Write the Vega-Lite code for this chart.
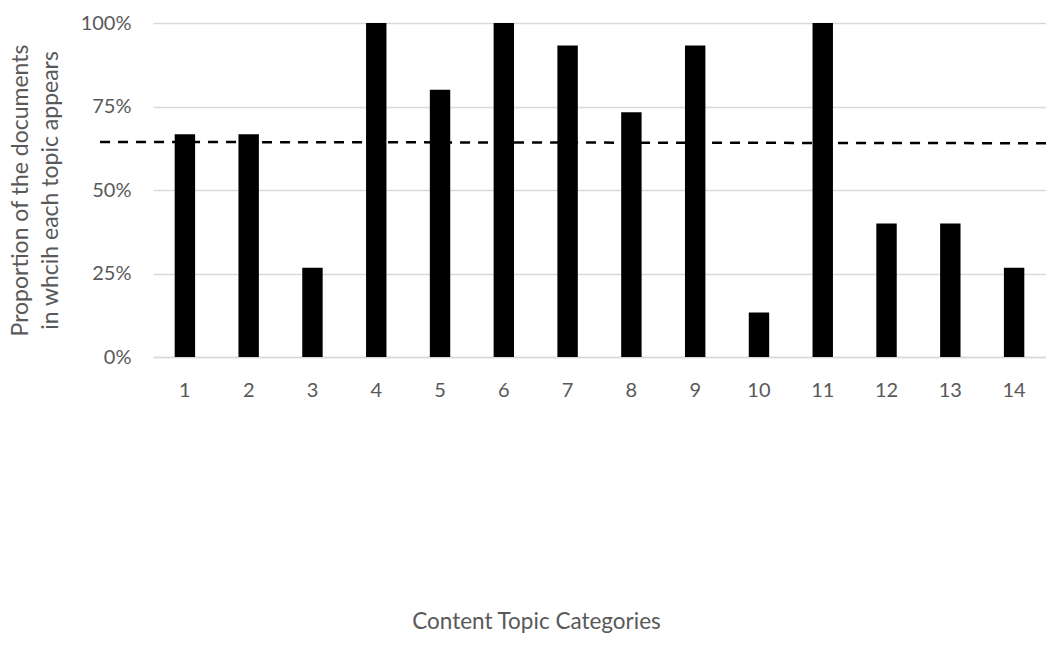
{
  "$schema": "https://vega.github.io/schema/vega-lite/v6.json",
  "autosize": "none",
  "width": 893,
  "height": 334,
  "padding": {"left": 153, "top": 23, "right": 0, "bottom": 300},
  "background": "white",
  "config": {
    "view": {"stroke": null},
    "font": "Lato",
    "axis": {"labelColor": "#595959", "titleColor": "#595959", "titleFontWeight": "normal", "labelFont": "Lato", "titleFont": "Lato"}
  },
  "datasets": {
    "bars": [
      {"topic": "1", "value": 0.667},
      {"topic": "2", "value": 0.667},
      {"topic": "3", "value": 0.267},
      {"topic": "4", "value": 1.0},
      {"topic": "5", "value": 0.8},
      {"topic": "6", "value": 1.0},
      {"topic": "7", "value": 0.933},
      {"topic": "8", "value": 0.733},
      {"topic": "9", "value": 0.933},
      {"topic": "10", "value": 0.133},
      {"topic": "11", "value": 1.0},
      {"topic": "12", "value": 0.4},
      {"topic": "13", "value": 0.4},
      {"topic": "14", "value": 0.267}
    ],
    "ref": [
      {"xa": -0.33, "xb": 14.5, "ya": 0.644, "yb": 0.640}
    ]
  },
  "layer": [
    {
      "data": {"name": "bars"},
      "mark": {"type": "bar", "color": "black"},
      "encoding": {
        "x": {
          "field": "topic", "type": "ordinal", "sort": null,
          "scale": {"paddingInner": 0.68, "paddingOuter": 0.34},
          "axis": {
            "title": "Content Topic Categories",
            "labelAngle": 0, "labelFontSize": 20, "labelPadding": 23,
            "ticks": false, "domainColor": "#d9d9d9", "domainWidth": 1.5,
            "titleFontSize": 22.5, "titleX": 383, "titleAnchor": "middle", "titleAlign": "center", "titlePadding": 210
          }
        },
        "y": {
          "field": "value", "type": "quantitative",
          "scale": {"domain": [0, 1]},
          "axis": {
            "title": ["Proportion of the documents", "in whcih each topic appears"],
            "values": [0, 0.25, 0.5, 0.75, 1],
            "format": ".0%",
            "labelFontSize": 20, "labelPadding": 22,
            "ticks": false, "domain": false,
            "gridColor": "#d9d9d9", "gridWidth": 1.5,
            "titleFontSize": 23, "titlePadding": 18, "titleLineHeight": 30
          }
        }
      }
    },
    {
      "data": {"name": "ref"},
      "mark": {"type": "rule", "color": "black", "strokeWidth": 2.5, "strokeDash": [10, 8]},
      "encoding": {
        "x": {"field": "xa", "type": "quantitative", "scale": {"domain": [0.5, 14.5]}, "axis": null},
        "x2": {"field": "xb"},
        "y": {"field": "ya", "type": "quantitative"},
        "y2": {"field": "yb"}
      }
    }
  ],
  "resolve": {"scale": {"x": "independent"}}
}
